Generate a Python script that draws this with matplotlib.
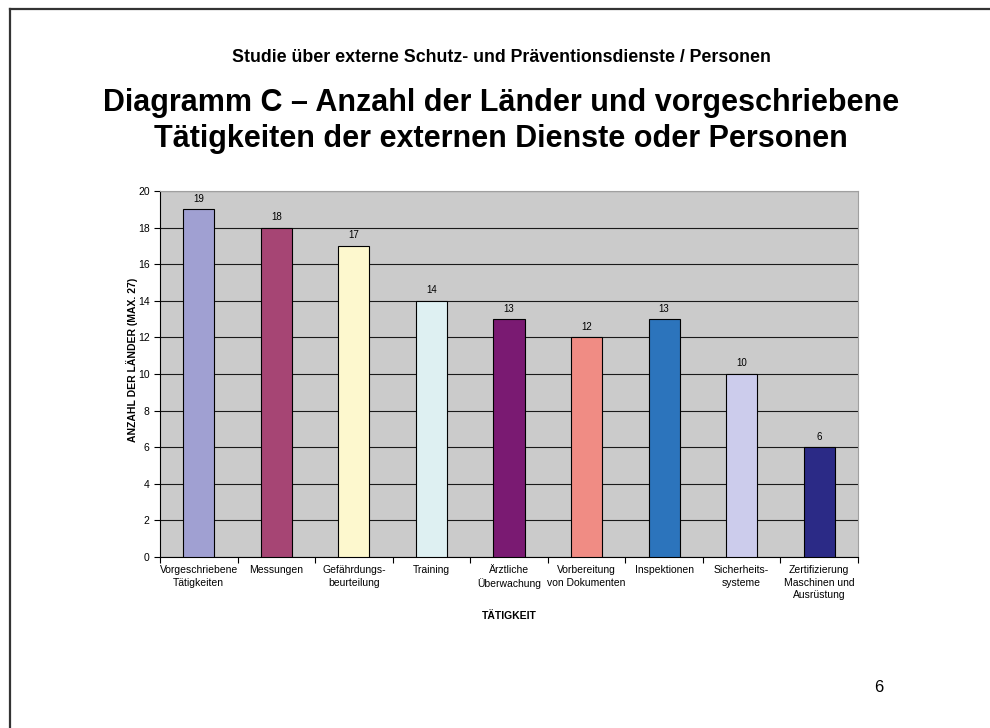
import matplotlib
matplotlib.use('Agg')
import matplotlib.pyplot as plt
from matplotlib.lines import Line2D
import numpy as np

plt.rcParams['font.family'] = ['Liberation Sans', 'DejaVu Sans']

taetigkeiten = [
	'Vorgeschriebene\nTätigkeiten',
	'Messungen',
	'Gefährdungs-\nbeurteilung',
	'Training',
	'Ärztliche\nÜberwachung',
	'Vorbereitung\nvon Dokumenten',
	'Inspektionen',
	'Sicherheits-\nsysteme',
	'Zertifizierung\nMaschinen und\nAusrüstung',
]
anzahl = [19, 18, 17, 14, 13, 12, 13, 10, 6]
farben = ['#A0A0D2', '#A64574', '#FDF8CE', '#DEF0F2', '#7A1A72',
		  '#F08C84', '#2C74BC', '#CCCCEC', '#2B2A86']
y_ticks = list(range(0, 21, 2))

fig = plt.figure(figsize=(9.9, 7.28), dpi=100)
fig.patch.set_facecolor('white')

# Rahmen der Folie (oben und links)
fig.add_artist(Line2D([9.5 / 990, 1], [1 - 8.5 / 728, 1 - 8.5 / 728],
					  color='#333333', lw=1.6, transform=fig.transFigure))
fig.add_artist(Line2D([9.5 / 990, 9.5 / 990], [0, 1 - 8.5 / 728],
					  color='#333333', lw=1.6, transform=fig.transFigure))

fig.text(501 / 990, 1 - 58 / 728, 'Studie über externe Schutz- und Präventionsdienste / Personen',
		 ha='center', va='center', fontsize=12.8, fontweight='bold')
fig.text(501 / 990, 1 - 121 / 728, 'Diagramm C – Anzahl der Länder und vorgeschriebene\n'
		 'Tätigkeiten der externen Dienste oder Personen',
		 ha='center', va='center', fontsize=22, fontweight='bold', linespacing=1.22)
fig.text(879 / 990, 1 - 688 / 728, '6', ha='center', va='center', fontsize=12)

ax = fig.add_axes([160 / 990, 1 - 557 / 728, 698 / 990, 366 / 728])
ax.set_facecolor('#CBCBCB')

x = np.arange(len(anzahl))
bars = ax.bar(x, anzahl, width=0.4, color=farben, edgecolor='black', linewidth=0.8, zorder=3)
for b, v in zip(bars, anzahl):
	ax.annotate(str(v), (b.get_x() + b.get_width() / 2, v), xytext=(0, 4),
				textcoords='offset points', ha='center', va='bottom', fontsize=7)

ax.set_xlim(-0.5, len(anzahl) - 0.5)
ax.set_ylim(0, 20)
ax.set_yticks(y_ticks)
ax.yaxis.grid(True, color='#1a1a1a', lw=0.8, zorder=1)
ax.set_axisbelow(True)

ax.set_xticks(x)
ax.set_xticklabels(taetigkeiten, fontsize=7.5, linespacing=1.3)
ax.set_xticks(np.arange(-0.5, len(anzahl)), minor=True)
ax.tick_params(axis='x', which='major', length=0, pad=6)
ax.tick_params(axis='x', which='minor', length=4, width=0.8, direction='out')
ax.tick_params(axis='y', labelsize=7.5, length=4, width=0.8, direction='out')

for s in ['top', 'right']:
	ax.spines[s].set_color('#A0A0A0')
	ax.spines[s].set_linewidth(0.8)
for s in ['left', 'bottom']:
	ax.spines[s].set_color('black')
	ax.spines[s].set_linewidth(0.8)

ax.set_ylabel('ANZAHL DER LÄNDER (MAX. 27)', fontsize=7.5, fontweight='bold')
ax.yaxis.set_label_coords(-0.032, 0.538)
ax.set_xlabel('TÄTIGKEIT', fontsize=7.5, fontweight='bold', labelpad=8)

fig.savefig('out.png', dpi=100)
